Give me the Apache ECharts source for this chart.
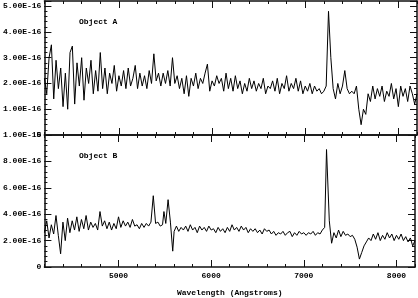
<!DOCTYPE html>
<html>
<head>
<meta charset="utf-8">
<script src="https://cdn.jsdelivr.net/npm/echarts@6/dist/echarts.min.js"></script>
<style>html,body{margin:0;padding:0;background:#fff}#c{width:418px;height:298px}</style>
</head>
<body>
<div id="c"></div>
<script>
// Wavelength samples (Angstroms) for Object A
const wavelengthsA = [4200,4225,4250,4275,4300,4325,4350,4375,4400,4425,4450,4475,4500,4525,4550,4575,4600,4625,4650,4675,
4700,4725,4750,4775,4800,4825,4850,4875,4900,4925,4950,4975,5000,5025,5050,5075,5100,5125,5150,5175,
5200,5225,5250,5275,5300,5325,5350,5375,5400,5425,5450,5475,5500,5525,5550,5575,5600,5625,5650,5675,
5700,5725,5750,5775,5800,5825,5850,5875,5900,5925,5950,5975,6000,6025,6050,6075,6100,6125,6150,6175,
6200,6225,6250,6275,6300,6325,6350,6375,6400,6425,6450,6475,6500,6525,6550,6575,6600,6625,6650,6675,
6700,6725,6750,6775,6800,6825,6850,6875,6900,6925,6950,6975,7000,7025,7050,7075,7100,7125,7150,7175,
7200,7225,7250,7275,7300,7325,7350,7375,7400,7425,7450,7475,7500,7525,7550,7575,7600,7625,7650,7675,
7700,7725,7750,7775,7800,7825,7850,7875,7900,7925,7950,7975,8000,8025,8050,8075,8100,8125,8150,8175,8200];

// Flux of Object A, in units of 1e-16
const fluxA = [2.2,1.6,3.0,3.5,1.4,2.9,1.8,2.6,1.1,2.4,1.0,3.2,3.45,1.2,2.8,1.9,3.0,1.35,2.6,2.0,
2.9,1.6,2.5,1.7,3.2,1.8,2.6,1.6,2.4,2.0,2.7,1.7,2.3,1.9,2.5,1.8,2.6,1.9,2.2,2.7,
1.8,2.4,1.9,2.3,1.8,2.5,2.0,3.15,2.1,2.4,1.9,2.4,2.0,2.5,1.9,3.0,2.0,2.3,1.8,2.2,
1.6,2.3,1.5,2.2,1.9,2.4,1.8,2.2,2.0,2.4,2.75,1.7,2.1,1.9,2.3,2.0,2.2,1.7,2.4,1.8,
2.2,1.7,2.3,1.8,2.1,1.6,2.0,1.7,2.2,1.8,2.1,1.7,2.0,1.8,2.2,1.6,1.9,1.8,2.1,1.7,
2.2,1.6,2.0,1.8,2.3,1.7,2.0,1.8,2.2,1.7,2.1,1.6,1.9,1.7,2.0,1.6,1.9,1.7,1.8,1.6,
1.7,1.9,4.8,3.0,1.8,1.4,2.0,1.6,1.9,2.5,1.8,1.6,1.7,1.6,1.9,1.0,0.4,1.0,0.8,1.6,
1.3,1.9,1.4,1.8,1.5,1.9,1.3,1.7,1.5,2.0,1.4,1.8,1.1,1.9,1.5,1.8,1.3,1.9,1.6,1.2,1.6];

// Wavelength samples (Angstroms) for Object B
const wavelengthsB = [4200,4225,4250,4275,4300,4325,4350,4375,4400,4425,4450,4475,4500,4525,4550,4575,4600,4625,4650,4675,
4700,4725,4750,4775,4800,4825,4850,4875,4900,4925,4950,4975,5000,5025,5050,5075,5100,5125,5150,5175,
5200,5225,5250,5275,5300,5325,5350,5375,5400,5425,5450,5475,5490,5510,5535,5560,5585,5600,5625,5650,5675,
5700,5725,5750,5775,5800,5825,5850,5875,5900,5925,5950,5975,6000,6025,6050,6075,6100,6125,6150,6175,
6200,6225,6250,6275,6300,6325,6350,6375,6400,6425,6450,6475,6500,6525,6550,6575,6600,6625,6650,6675,
6700,6725,6750,6775,6800,6825,6850,6875,6900,6925,6950,6975,7000,7025,7050,7075,7100,7125,7150,7175,
7200,7225,7245,7275,7300,7325,7350,7375,7400,7425,7450,7475,7500,7525,7550,7575,7600,7625,7650,7675,
7700,7725,7750,7775,7800,7825,7850,7875,7900,7925,7950,7975,8000,8025,8050,8075,8100,8125,8150,8175,8200];

// Flux of Object B, in units of 1e-16
const fluxB = [2.6,3.5,2.2,3.2,2.5,3.9,2.4,1.0,3.4,2.0,3.7,2.6,3.5,2.8,3.8,2.7,3.6,2.9,3.9,2.8,
3.4,3.0,3.3,2.8,4.2,3.1,3.5,2.9,3.4,2.8,3.3,2.9,3.8,3.0,3.5,3.1,3.4,3.0,3.6,3.1,
3.2,2.9,3.3,3.0,3.3,3.1,3.4,5.4,3.3,3.4,3.1,3.2,4.2,3.3,5.1,3.4,1.2,2.7,3.1,2.7,3.0,
2.8,3.1,2.7,3.2,2.8,3.0,2.6,3.1,2.8,3.0,2.7,3.1,2.8,2.9,2.6,3.0,2.7,2.9,2.6,3.0,
2.7,3.2,2.8,3.0,2.7,3.1,2.8,3.0,2.6,2.9,2.7,2.9,2.6,2.8,2.5,2.9,2.7,2.8,2.5,2.7,
2.4,2.6,2.5,2.7,2.4,2.6,2.7,2.3,2.6,2.4,2.7,2.5,2.6,2.4,2.6,2.5,2.7,2.4,2.6,2.5,
2.8,3.0,8.9,3.5,1.8,2.6,2.2,2.8,2.3,2.7,2.4,2.5,2.3,2.4,2.1,1.5,0.6,1.1,1.6,1.9,
2.2,2.0,2.5,2.1,2.6,2.0,2.4,2.1,2.6,2.2,2.5,2.0,2.4,2.1,2.5,2.0,2.3,1.9,2.2,1.6,2.0];

const xMajorTicks = [5000, 6000, 7000, 8000];
const panelNames = ['Object A', 'Object B'];
const xTitle = 'Wavelength (Angstroms)';

const FONT = 'Liberation Mono';
const AX = '#111';
const xMin = 4200, xMax = 8200;
const panels = [
  { top: 1, height: 134, yMax: 5.2, major: 1, minor: 0.2, xs: wavelengthsA, data: fluxA },
  { top: 135, height: 134, yMax: 10, major: 2, minor: 0.4, xs: wavelengthsB, data: fluxB }
];

const fmtY = v => {
  if (Math.abs(v - Math.round(v)) > 1e-6) return '';
  if (Math.round(v) === 0) return '0';
  return (Math.round(v) * 1e-16).toExponential(2).toUpperCase();
};

const grids = [], xAxes = [], yAxes = [], series = [], titles = [];
panels.forEach((p, g) => {
  grids.push({ left: 42, width: 375, top: p.top, height: p.height, containLabel: false });
  ['bottom', 'top'].forEach(pos => {
    xAxes.push({
      gridIndex: g, type: 'value', position: pos, min: xMin, max: xMax, interval: 200,
      axisLine: { show: true, onZero: false, lineStyle: { color: AX, width: 1.5 } },
      axisTick: { show: true, inside: true, length: 3, lineStyle: { color: AX, width: 1 } },
      axisLabel: {
        show: g === 1 && pos === 'bottom', margin: 5,
        formatter: v => (v % 1000 === 0 ? String(v) : ''),
        fontFamily: FONT, fontSize: 8, fontWeight: 'bold', color: '#000'
      },
      name: (g === 1 && pos === 'bottom') ? xTitle : '',
      nameLocation: 'middle', nameGap: 22,
      nameTextStyle: { fontFamily: FONT, fontSize: 8, fontWeight: 'bold', color: '#000' },
      splitLine: { show: false }
    });
    xAxes.push({
      gridIndex: g, type: 'value', position: pos, min: xMin, max: xMax,
      axisLine: { show: false, onZero: false },
      axisTick: { show: true, inside: true, length: 7, customValues: xMajorTicks, lineStyle: { color: AX, width: 1 } },
      axisLabel: { show: false },
      splitLine: { show: false }
    });
  });
  ['left', 'right'].forEach(pos => {
    yAxes.push({
      gridIndex: g, type: 'value', position: pos, min: 0, max: p.yMax, interval: p.minor,
      axisLine: { show: true, onZero: false, lineStyle: { color: AX, width: 1.5 } },
      axisTick: { show: true, inside: true, length: 3, lineStyle: { color: AX, width: 1 } },
      axisLabel: { show: false },
      splitLine: { show: false }
    });
    yAxes.push({
      gridIndex: g, type: 'value', position: pos, min: 0, max: p.yMax, interval: p.major,
      axisLine: { show: false, onZero: false },
      axisTick: { show: true, inside: true, length: 7, lineStyle: { color: AX, width: 1 } },
      axisLabel: {
        show: pos === 'left', margin: 3, formatter: fmtY,
        fontFamily: FONT, fontSize: 8, fontWeight: 'bold', color: '#000'
      },
      splitLine: { show: false }
    });
  });
  series.push({
    type: 'line', xAxisIndex: g * 4, yAxisIndex: g * 4,
    data: p.xs.map((w, i) => [w, p.data[i]]),
    showSymbol: false, symbol: 'none',
    lineStyle: { color: '#000', width: 1 },
    clip: true, animation: false
  });
  titles.push({
    text: panelNames[g], left: 79, top: p.top + 17, padding: 0,
    textStyle: { fontFamily: FONT, fontSize: 8, fontWeight: 'bold', color: '#000' }
  });
});

const chart = echarts.init(document.getElementById('c'), null, { renderer: 'canvas' });
chart.setOption({
  animation: false,
  backgroundColor: '#fff',
  title: titles,
  grid: grids,
  xAxis: xAxes,
  yAxis: yAxes,
  series: series
});
</script>
</body>
</html>
